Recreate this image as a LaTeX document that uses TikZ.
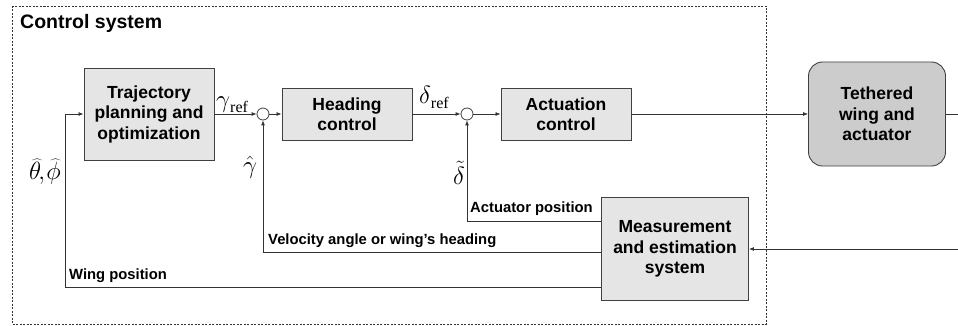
\documentclass[tikz,border=0pt]{standalone}
\usepackage{fontspec}
\setmainfont{Liberation Sans}
\newfontfamily\serifref{Liberation Serif}
\usetikzlibrary{arrows.meta}
\newcommand{\refsub}{\raisebox{-5pt}{\fontsize{16}{16}\selectfont\serifref ref}}
\begin{document}
\begin{tikzpicture}[x=1pt,y=-1pt,
 blk/.style={draw=black!75, fill=black!10, line width=0.9pt, inner sep=0pt, align=center, font=\fontsize{17.5}{20.5}\selectfont\bfseries},
 sumc/.style={circle, draw=black!75, fill=white, minimum size=12pt, inner sep=0pt, line width=0.8pt},
 conn/.style={draw=black!80, line width=0.8pt},
 arr/.style={conn, -{Latex[length=5pt,width=4pt]}},
 lbl/.style={font=\fontsize{14.8}{16}\selectfont\bfseries, inner sep=0pt},
 mlbl/.style={font=\fontsize{23}{25}\selectfont, inner sep=0pt}]
\useasboundingbox (0,0) rectangle (958,326);
\draw[black!80, line width=0.6pt, dash pattern=on 2pt off 1.5pt] (12,6) rectangle (766,324);
\node[font=\fontsize{19.5}{22}\selectfont\bfseries, anchor=west, inner sep=0pt] (title) at (20,23) {Control system};

\node[blk, minimum width=130pt, minimum height=92pt] (traj) at (149,114) {Trajectory\\planning and\\optimization};
\node[sumc] (s1) at (263,114) {};
\node[blk, minimum width=130pt, minimum height=52pt] (head) at (347,114) {Heading\\control};
\node[sumc] (s2) at (467,114) {};
\node[blk, minimum width=130pt, minimum height=52pt] (act) at (566,114) {Actuation\\control};
\node[blk, rounded corners=14pt, fill=black!20, minimum width=137pt, minimum height=104pt] (teth) at (877,114) {Tethered\\wing and\\actuator};
\node[blk, minimum width=147pt, minimum height=103pt] (meas) at (675,249) {Measurement\\and estimation\\system};

\coordinate (rout) at (958,114);
\coordinate (rin) at (958,249);
\coordinate (ap) at (467,221);
\coordinate (va) at (263,252);
\coordinate (wp) at (65,287);

\draw[arr] (traj.east) -- (s1.west);
\draw[arr] (s1.east) -- (head.west);
\draw[arr] (head.east) -- (s2.west);
\draw[arr] (s2.east) -- (act.west);
\draw[arr] (act.east) -- (teth.west);
\draw[conn] (teth.east) -- (rout);
\draw[arr] (rin) -- (meas.east);
\draw[arr] (meas.west |- ap) -- (ap) -- (s2.south);
\draw[arr] (meas.west |- va) -- (va) -- (s1.south);
\draw[arr] (meas.west |- wp) -- (wp) |- (traj.west);

\node[lbl, anchor=south west] (lap) at (470,216) {Actuator position};
\node[lbl, anchor=south west] (lva) at (268,248) {Velocity angle or wing's heading};
\node[lbl, anchor=south west] (lwp) at (69,283) {Wing position};

\node[mlbl, anchor=base west] (gref) at (216,108) {$\gamma$\refsub};
\node[mlbl, anchor=base west] (dref) at (419,104) {$\delta$\refsub};
\node[mlbl] (ghat) at (250,167) {$\hat{\gamma}$};
\node[mlbl] (dtil) at (459,173) {$\tilde{\delta}$};
\node[mlbl] (thph) at (45,172) {$\widehat{\theta}\mkern-2mu,\mkern-2mu\widehat{\phi}$};
\end{tikzpicture}
\end{document}
